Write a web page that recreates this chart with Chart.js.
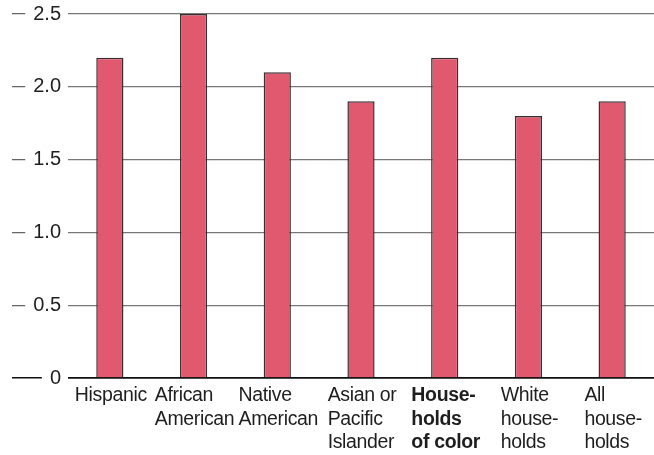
<!DOCTYPE html>
<html lang="en">
<head>
    <meta charset="UTF-8">
    <title>Households chart</title>
    <style>
        html, body {
            margin: 0;
            padding: 0;
            background-color: #fff;
        }
        #wrap {
            width: 654px;
            height: 455px;
            position: relative;
        }
    </style>
    <script src="https://cdn.jsdelivr.net/npm/chart.js"></script>
</head>
<body>
    <div id="wrap"><canvas id="chart"></canvas></div>

    <script>
        const categories = [
            ['Hispanic'],
            ['African', 'American'],
            ['Native', 'American'],
            ['Asian or', 'Pacific', 'Islander'],
            ['House-', 'holds', 'of color'],
            ['White', 'house-', 'holds'],
            ['All', 'house-', 'holds']
        ];
        const values = [2.2, 2.5, 2.1, 1.9, 2.2, 1.8, 1.9];
        const boldCategory = 4; // "Households of color" is set in bold
        const yMax = 2.5;
        const yStep = 0.5;

        const fontFamily = '"Liberation Sans", Arial, Helvetica, sans-serif';
        const textColor = '#1e1e1e';

        // x labels: each block centred under its bar, lines left-aligned inside the block
        const xLabelPlugin = {
            id: 'xLabels',
            afterDraw(chart) {
                const ctx = chart.ctx;
                const xScale = chart.scales.x;
                const base = chart.chartArea.bottom;
                ctx.save();
                ctx.fillStyle = textColor;
                ctx.textBaseline = 'alphabetic';
                ctx.textAlign = 'left';
                ctx.letterSpacing = '-0.35px';
                categories.forEach(function(lines, i) {
                    ctx.font = (i === boldCategory ? 'bold ' : '') + '19.5px ' + fontFamily;
                    let w = 0;
                    lines.forEach(function(l) { w = Math.max(w, ctx.measureText(l).width); });
                    const x = xScale.getPixelForValue(i) - w / 2 + 1;
                    lines.forEach(function(l, j) {
                        ctx.fillText(l, x, base + 23 + j * 23.5);
                    });
                });
                ctx.restore();
            }
        };

        new Chart(document.getElementById('chart'), {
            type: 'bar',
            data: {
                labels: categories.map(function(c) { return c.join(' '); }),
                datasets: [{
                    data: values,
                    backgroundColor: '#e0596f',
                    borderColor: '#3a2f33',
                    borderWidth: 1.5,
                    borderSkipped: 'bottom',
                    categoryPercentage: 1,
                    barPercentage: 0.325
                }]
            },
            options: {
                responsive: true,
                maintainAspectRatio: false,
                animation: false,
                layout: {
                    padding: { top: 14, right: 0, bottom: 69, left: 0 }
                },
                plugins: {
                    legend: { display: false },
                    tooltip: { enabled: false }
                },
                scales: {
                    x: {
                        grid: { display: false },
                        border: { display: true, color: '#111', width: 1.6 },
                        ticks: { display: false }
                    },
                    y: {
                        min: 0,
                        max: yMax,
                        afterFit: function(scale) { scale.width = 68; },
                        border: { display: false },
                        grid: {
                            color: function(c) { return c.tick && c.tick.value === 0 ? '#111' : '#777'; },
                            tickColor: function(c) { return c.tick && c.tick.value === 0 ? '#111' : '#666'; },
                            lineWidth: function(c) { return c.tick && c.tick.value === 0 ? 1.6 : 1.2; },
                            drawTicks: true,
                            tickLength: 56
                        },
                        ticks: {
                            stepSize: yStep,
                            padding: -49,
                            color: textColor,
                            font: { family: fontFamily, size: 20 },
                            showLabelBackdrop: true,
                            backdropColor: '#fff',
                            backdropPadding: { left: 8, right: 7, top: 2, bottom: 2 },
                            callback: function(v) { return v === 0 ? '0' : v.toFixed(1); }
                        }
                    }
                }
            },
            plugins: [xLabelPlugin]
        });
    </script>
</body>
</html>
